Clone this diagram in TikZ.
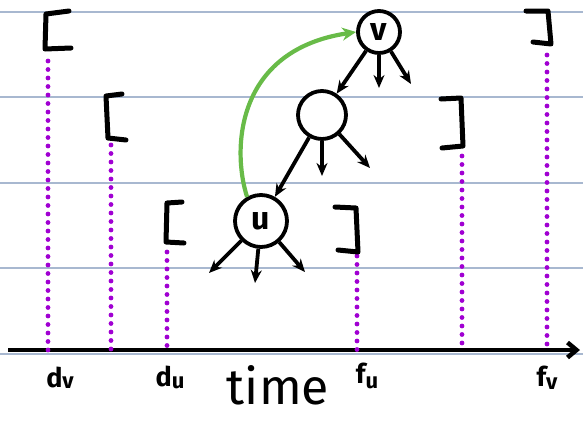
\documentclass[tikz,border=0pt]{standalone}
\usepackage{fontspec}
\setmainfont{Fira Sans}
\usetikzlibrary{arrows.meta}
\definecolor{rule}{RGB}{168,184,208}
\definecolor{drp}{RGB}{160,0,210}
\definecolor{grn}{RGB}{104,187,72}
\begin{document}
\begin{tikzpicture}[x=1pt,y=-1pt,
  ruled/.style={draw=rule, line width=1.5pt},
  drop/.style={draw=drp, line width=4.8pt, dash pattern=on 0pt off 8.5pt, line cap=round},
  brk/.style={draw=black, line width=5pt, line cap=round, line join=round},
  vtx/.style={circle, draw=black, line width=3.8pt, fill=white, inner sep=0pt, font=\bfseries\fontsize{32}{34}\selectfont},
  kid/.style={draw=black, line width=3.8pt, -{Stealth[length=13pt,width=11pt]}},
  lab/.style={font=\bfseries\fontsize{27}{28}\selectfont, inner sep=0pt}]
\useasboundingbox (0,0) rectangle (583,421);
% ruled lines
\foreach \y in {12,97,183,268,354} \draw[ruled] (0,\y) -- (583,\y);
% axis
\coordinate (a0) at (8,350);
\coordinate (a1) at (580,350);
\draw[line width=4.5pt, -{Straight Barb[length=9pt,width=15pt]}] (a0) -- (a1);
% dotted drops
\foreach \x/\t in {48/61,111/145,167/252,357/256,462/156,547/55}
  \draw[drop] (\x,\t) -- (\x,350);
% brackets
\draw[brk] (69,11) -- (46,14) -- (45,49) -- (71,48);
\draw[brk] (122,94) -- (106,96) -- (108,138) -- (126,140);
\draw[brk] (182,202) -- (167,203) -- (166,242) -- (184,243);
\draw[brk] (335,207) -- (356,208) -- (358,252) -- (338,250);
\draw[brk] (441,99) -- (461,98) -- (463,146) -- (442,148);
\draw[brk] (526,11) -- (548,11) -- (551,44) -- (533,42);
% vertices
\node[vtx, minimum size=42pt] (v) at (379,32) {v};
\node[vtx, minimum size=48pt] (m) at (322,115) {};
\node[vtx, minimum size=52pt] (u) at (261,221) {u};
% tree edges
\draw[kid] (v) -- (m);
\draw[kid] (m) -- (u);
\coordinate (v1) at (379,88);
\coordinate (v2) at (411,84);
\draw[kid] (v) -- (v1);
\draw[kid] (v) -- (v2);
\coordinate (m1) at (322,176);
\coordinate (m2) at (370,168);
\draw[kid] (m) -- (m1);
\draw[kid] (m) -- (m2);
\coordinate (u1) at (209,273);
\coordinate (u2) at (255,283);
\coordinate (u3) at (305,272);
\draw[kid] (u) -- (u1);
\draw[kid] (u) -- (u2);
\draw[kid] (u) -- (u3);
% green arc
\draw[draw=grn, line width=4.2pt, -{Stealth[length=14pt,width=13pt]}]
  (u.120) .. controls (232,150) and (235,50) .. (v.west);
% labels
\node[lab] (ldv) at (60,378) {d\raisebox{-1pt}{\fontsize{22}{23}\selectfont v}};
\node[lab] (ldu) at (170,377) {d\raisebox{-2pt}{\fontsize{22}{23}\selectfont u}};
\node[lab] (lfu) at (367,376) {f\raisebox{-5pt}{\fontsize{22}{23}\selectfont u}};
\node[lab] (lfv) at (547,378) {f\raisebox{-3pt}{\fontsize{22}{23}\selectfont v}};
\node[font=\fontsize{50}{52}\selectfont, inner sep=0pt, text depth=0pt, anchor=base] (time) at (278,404) {time};
\end{tikzpicture}
\end{document}
